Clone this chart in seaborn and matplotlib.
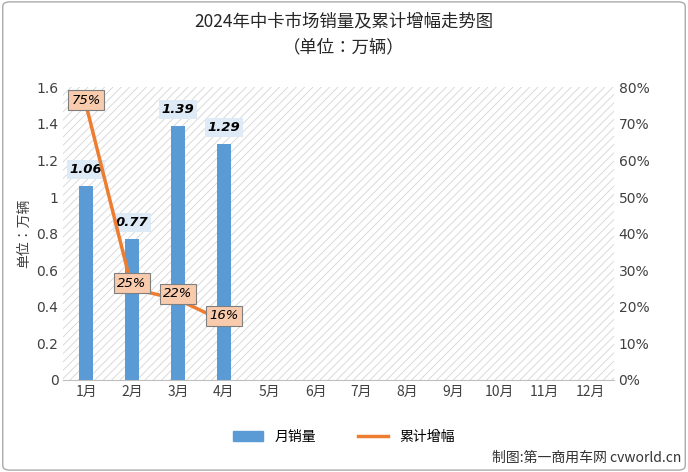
import matplotlib
matplotlib.use("Agg")
import matplotlib.pyplot as plt
from matplotlib import font_manager as fm
import seaborn as sns
import pandas as pd
from matplotlib.patches import FancyBboxPatch

for f in fm.findSystemFonts():
    if "CJK" in f and "Sans" in f:
        try:
            fm.fontManager.addfont(f)
        except Exception:
            pass
names = {e.name for e in fm.fontManager.ttflist}
fam = "Noto Sans CJK SC"
if fam not in names:
    fam = next((n for n in sorted(names) if "Sans CJK" in n), "DejaVu Sans")
plt.rcParams["font.family"] = "sans-serif"
plt.rcParams["font.sans-serif"] = ["DejaVu Sans", fam]
plt.rcParams["hatch.linewidth"] = 0.6

months = ["1月", "2月", "3月", "4月", "5月", "6月", "7月", "8月", "9月", "10月", "11月", "12月"]
sales = [1.06, 0.77, 1.39, 1.29, None, None, None, None, None, None, None, None]
growth = [75, 25, 22, 16]

df = pd.DataFrame({"month": months, "sales": sales})

fig = plt.figure(figsize=(6.88, 4.72), dpi=100)
fig.patches.append(FancyBboxPatch((0.004, 0.004), 0.992, 0.992, boxstyle="round,pad=0,rounding_size=0.01",
                                  transform=fig.transFigure, fill=False, ec="#aaaaaa", lw=1))
ax = fig.add_axes([0.092, 0.195, 0.8, 0.62])
ax.set_xlim(-0.5, 11.5)
ax.add_patch(plt.Rectangle((-0.5, 0), 12, 1.6, fill=False, hatch="////", ec="#d4d4d4", lw=0, zorder=0))
sns.barplot(data=df, x="month", y="sales", color="#5B9BD5", width=0.3, ax=ax, zorder=2, saturation=1)
ax.set_ylim(0, 1.6)
ax.set_yticks([0, 0.2, 0.4, 0.6, 0.8, 1, 1.2, 1.4, 1.6])
ax.set_yticklabels(["0", "0.2", "0.4", "0.6", "0.8", "1", "1.2", "1.4", "1.6"])
ax.set_xticks(range(12))
ax.set_xticklabels(months, family=fam)
ax.set_xlabel("")
ax.set_ylabel("单位：万辆", fontsize=10, color="#404040", family=fam)
for s in ax.spines.values():
    s.set_visible(False)
ax.spines["bottom"].set_visible(True)
ax.spines["bottom"].set_color("#bfbfbf")
ax.tick_params(length=0, labelsize=10, colors="#404040")
for i, v in enumerate(sales[:4]):
    ax.text(i, v + 0.09, f"{v:.2f}", ha="center", va="center", fontsize=9.5, fontweight="bold",
            style="italic", bbox=dict(fc="#deebf7", ec="none", pad=2), zorder=5)

ax2 = ax.twinx()
sns.lineplot(x=list(range(4)), y=growth, color="#ED7D31", lw=2.5, ax=ax2, zorder=3)
ax2.set_ylim(0, 80)
ax2.set_yticks(range(0, 81, 10))
ax2.set_yticklabels([f"{t}%" for t in range(0, 81, 10)])
ax2.tick_params(length=0, labelsize=10, colors="#404040")
for s in ax2.spines.values():
    s.set_visible(False)
for i, g in enumerate(growth):
    ax2.text(i, g + 1.5, f"{g}%", ha="center", va="center", fontsize=9.5, style="italic",
             bbox=dict(fc="#f8cbad", ec="#7f7f7f", lw=0.8, pad=2.5), zorder=6)

fig.text(0.5, 0.955, "2024年中卡市场销量及累计增幅走势图", ha="center", va="center", fontsize=12.5,
         color="#262626", family=fam)
fig.text(0.5, 0.9, "（单位：万辆）", ha="center", va="center", fontsize=12.5, color="#262626", family=fam)
h = [plt.Rectangle((0, 0), 1, 1, color="#5B9BD5"), plt.Line2D([0], [0], color="#ED7D31", lw=2.5)]
fig.legend(h, ["月销量", "累计增幅"], loc="center", bbox_to_anchor=(0.5, 0.075), ncol=2, frameon=False,
           columnspacing=3, handlelength=2.2, prop={"family": fam, "size": 10})
fig.text(0.99, 0.03, "制图:第一商用车网 cvworld.cn", ha="right", va="center", fontsize=10,
         color="#333333", family=fam)
fig.savefig("out.png", dpi=100)
